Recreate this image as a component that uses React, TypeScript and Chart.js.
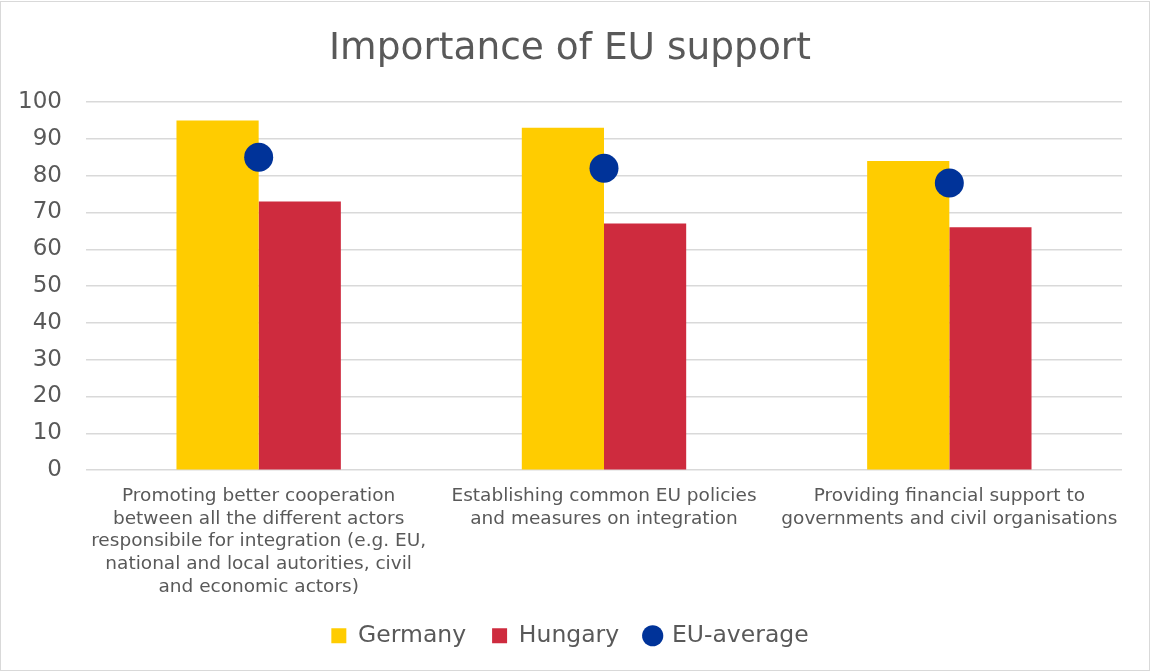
import React, { useEffect, useRef } from 'react';
import { Chart, registerables } from 'chart.js';

Chart.register(...registerables);

const categories: string[][] = [
  [
    'Promoting better cooperation',
    'between all the different actors',
    'responsibile for integration (e.g. EU,',
    'national and local autorities, civil',
    'and economic actors)',
  ],
  ['Establishing common EU policies', 'and measures on integration'],
  ['Providing financial support to', 'governments and civil organisations'],
];
const germany = [95, 93, 84];
const hungary = [73, 67, 66];
const euAverage = [85, 82, 78];
const seriesNames = ['Germany', 'Hungary', 'EU-average'];
const yMin = 0;
const yMax = 100;
const yStep = 10;

const TEXT = '#595959';
const GRID = '#d9d9d9';
const FONT = '"DejaVu Sans", Verdana, sans-serif';

const X_FONT = 18.5;
const X_LH = 1.22;
const X_PAD = 15;
const X_LINES = 5;
const LEGEND_H = 74;

const legendHeightPlugin = {
  id: 'legendHeight',
  beforeInit(chart: any) {
    const lg = chart.legend;
    if (!lg) return;
    const orig = lg.fit;
    lg.fit = function () {
      orig.call(this);
      this.height = LEGEND_H;
    };
  },
};

export default function App() {
  const ref = useRef<HTMLCanvasElement | null>(null);

  useEffect(() => {
    if (!ref.current) return;
    Chart.defaults.font.family = FONT;
    const chart = new Chart(ref.current, {
      type: 'bar',
      plugins: [legendHeightPlugin],
      data: {
        labels: categories,
        datasets: [
          {
            type: 'bar',
            label: seriesNames[0],
            data: germany,
            backgroundColor: '#FFCC00',
            borderWidth: 0,
            categoryPercentage: 0.476,
            barPercentage: 1,
            order: 1,
          },
          {
            type: 'bar',
            label: seriesNames[1],
            data: hungary,
            backgroundColor: '#CE2B3E',
            borderWidth: 0,
            categoryPercentage: 0.476,
            barPercentage: 1,
            order: 1,
          },
          {
            type: 'line',
            label: seriesNames[2],
            data: euAverage,
            showLine: false,
            backgroundColor: '#003399',
            borderColor: '#003399',
            borderWidth: 0,
            pointRadius: 14.5,
            pointHoverRadius: 14.5,
            pointStyle: 'circle',
            order: 0,
          },
        ],
      },
      options: {
        responsive: false,
        animation: false,
        layout: { padding: { left: 18, right: 29, top: 0, bottom: 0 } },
        plugins: {
          title: {
            display: true,
            text: 'Importance of EU support',
            color: TEXT,
            font: { size: 37.5, weight: 'normal', family: FONT, lineHeight: 1.2 },
            padding: { top: 27, bottom: 30 },
          },
          legend: {
            position: 'bottom',
            labels: {
              color: TEXT,
              font: { size: 23.5, family: FONT },
              usePointStyle: true,
              boxHeight: 15,
              boxWidth: 15,
              padding: 26,
              sort: (a: any, b: any) => a.datasetIndex - b.datasetIndex,
              generateLabels: (c: any) => {
                const items = (Chart.defaults.plugins.legend.labels as any).generateLabels(c);
                items.forEach((it: any) => {
                  it.pointStyle = it.datasetIndex === 2 ? 'circle' : 'rect';
                  it.lineWidth = 0;
                  it.strokeStyle = 'rgba(0,0,0,0)';
                });
                return items;
              },
            },
          },
          tooltip: { enabled: false },
        },
        scales: {
          x: {
            grid: { display: false, drawTicks: false },
            border: { display: false },
            ticks: {
              color: TEXT,
              font: { size: X_FONT, family: FONT, lineHeight: X_LH },
              padding: X_PAD,
              maxRotation: 0,
              autoSkip: false,
            },
            afterFit: (s: any) => {
              s.paddingLeft = 0;
              s.paddingRight = 0;
              s.height = X_PAD + X_LINES * X_FONT * X_LH;
            },
          },
          y: {
            min: yMin,
            max: yMax,
            grid: { color: GRID, lineWidth: 1.5, drawTicks: false },
            border: { display: false },
            ticks: {
              stepSize: yStep,
              color: TEXT,
              font: { size: 23, family: FONT },
              padding: 24,
            },
            afterFit: (s: any) => {
              s.width = 68;
            },
          },
        },
      },
    });
    return () => chart.destroy();
  }, []);

  return (
    <div style={{ position: 'absolute', left: 0, top: 0, width: 1151, height: 672 }}>
      <div
        style={{
          position: 'absolute',
          left: 0,
          top: 1,
          width: 1150,
          height: 670,
          border: '1px solid #d9d9d9',
          boxSizing: 'border-box',
          background: '#fff',
        }}
      />
      <canvas
        ref={ref}
        width={1151}
        height={672}
        style={{ position: 'absolute', left: 0, top: 0 }}
      />
    </div>
  );
}
